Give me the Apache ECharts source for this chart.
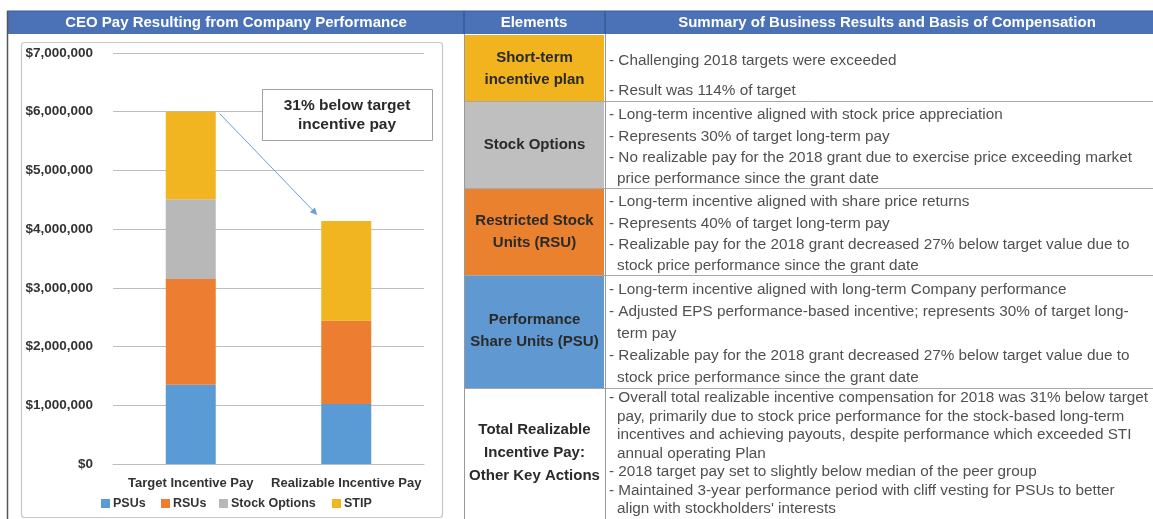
<!DOCTYPE html>
<html><head><meta charset="utf-8">
<script src="https://cdn.jsdelivr.net/npm/echarts@6/dist/echarts.min.js"></script>
<style>html,body{margin:0;padding:0;background:#fff}#c{width:1153px;height:519px}</style>
</head><body><div id="c"></div>
<script>
// ---------- data ----------
const chartTitle = 'CEO Pay Resulting from Company Performance';
const categories = ['Target Incentive Pay', 'Realizable Incentive Pay'];
const seriesNames = ['PSUs', 'RSUs', 'Stock Options', 'STIP'];
const psus = [1350000, 1020000];
const rsus = [1800000, 1420000];
const stockOptions = [1360000, 0];
const stip = [1490000, 1700000];
const yMin = 0, yMax = 7000000, yStep = 1000000;
const annotationLines = ['31% below target', 'incentive pay'];
const tableHeaders = ['Elements', 'Summary of Business Results and Basis of Compensation'];
const elementLabels = [
  ['Short-term', 'incentive plan'],
  ['Stock Options'],
  ['Restricted Stock', 'Units (RSU)'],
  ['Performance', 'Share Units (PSU)'],
  ['Total Realizable', 'Incentive Pay:', 'Other Key Actions']
];
const summaryLines = [
  ['- Challenging 2018 targets were exceeded', '- Result was 114% of target'],
  ['- Long-term incentive aligned with stock price appreciation',
   '- Represents 30% of target long-term pay',
   '- No realizable pay for the 2018 grant due to exercise price exceeding market',
   'price performance since the grant date'],
  ['- Long-term incentive aligned with share price returns',
   '- Represents 40% of target long-term pay',
   '- Realizable pay for the 2018 grant decreased 27% below target value due to',
   'stock price performance since the grant date'],
  ['- Long-term incentive aligned with long-term Company performance',
   '- Adjusted EPS performance-based incentive; represents 30% of target long-',
   'term pay',
   '- Realizable pay for the 2018 grant decreased 27% below target value due to',
   'stock price performance since the grant date'],
  ['- Overall total realizable incentive compensation for 2018 was 31% below target',
   'pay, primarily due to stock price performance for the stock-based long-term',
   'incentives and achieving payouts, despite performance which exceeded STI',
   'annual operating Plan',
   '- 2018 target pay set to slightly below median of the peer group',
   '- Maintained 3-year performance period with cliff vesting for PSUs to better',
   'align with stockholders\' interests']
];

// ---------- style / layout ----------
const FONT = "'Liberation Sans', Arial, Helvetica, sans-serif";
const barColors = ['#5b9bd5', '#ed7d31', '#b8b8b8', '#f0b521'];
const cellColors = ['#f1b41e', '#bfbfbf', '#e9812f', '#6099d1', '#ffffff'];
const headerBlue = '#4b72b6';
const rowBounds = [34, 101, 188, 275, 388, 519];
const elemLineY = [[58, 80], [145], [221, 243], [320, 342], [430, 453, 476]];
const sumLineY = [
  [61, 91],
  [115, 137, 158, 179],
  [202, 224, 245, 266],
  [290, 312, 334, 356, 378],
  [398, 416.5, 435, 453.5, 472, 490.5, 509]
];
const legendLeft = [101, 161, 219, 332];

const chart = echarts.init(document.getElementById('c'), null, {renderer: 'canvas'});

function staticGraphics() {
  const g = [];
  // header bar
  g.push({type: 'rect', shape: {x: 7, y: 11, width: 1146, height: 23}, style: {fill: headerBlue}, z: 0});
  g.push({type: 'line', shape: {x1: 7, y1: 11, x2: 1153, y2: 11}, style: {stroke: '#3b5a90', lineWidth: 1}});
  [464, 605].forEach(x => g.push({type: 'line', shape: {x1: x, y1: 11, x2: x, y2: 34}, style: {stroke: '#2f4f86', lineWidth: 1}}));
  g.push({type: 'text', x: 236, y: 23, style: {text: chartTitle, fill: '#fff', font: 'bold 15px ' + FONT, align: 'center', verticalAlign: 'middle'}});
  g.push({type: 'text', x: 534, y: 23, style: {text: tableHeaders[0], fill: '#fff', font: 'bold 15px ' + FONT, align: 'center', verticalAlign: 'middle'}});
  g.push({type: 'text', x: 887, y: 23, style: {text: tableHeaders[1], fill: '#fff', font: 'bold 15px ' + FONT, align: 'center', verticalAlign: 'middle'}});
  // left panel border
  g.push({type: 'line', shape: {x1: 7.5, y1: 11, x2: 7.5, y2: 519}, style: {stroke: '#555', lineWidth: 1.5}});
  // inner chart frame
  g.push({type: 'rect', shape: {x: 21.5, y: 42.5, width: 421, height: 475, r: 3}, style: {fill: 'none', stroke: '#c6c6c6', lineWidth: 1.2}, z: -1});
  // table cells
  for (let i = 0; i < 5; i++) {
    const y0 = rowBounds[i], y1 = rowBounds[i + 1];
    g.push({type: 'rect', shape: {x: 465, y: y0 + 1, width: 139, height: y1 - y0 - 1}, style: {fill: cellColors[i]}});
    if (i > 0) {
      g.push({type: 'line', shape: {x1: 464, y1: y0 + 0.5, x2: 1153, y2: y0 + 0.5}, style: {stroke: '#a8a8a8', lineWidth: 1}});
    }
    elementLabels[i].forEach((t, k) => g.push({type: 'text', x: 534.5, y: elemLineY[i][k],
      style: {text: t, fill: '#2a2a2a', font: 'bold 15px ' + FONT, align: 'center', verticalAlign: 'middle'}}));
    summaryLines[i].forEach((t, k) => {
      const cont = !t.startsWith('-');
      g.push({type: 'text', x: cont ? 617 : 609, y: sumLineY[i][k],
        style: {text: t, fill: '#505050', font: '15.3px ' + FONT, align: 'left', verticalAlign: 'middle'}});
    });
  }
  g.push({type: 'line', shape: {x1: 464.5, y1: 34, x2: 464.5, y2: 519}, style: {stroke: '#999', lineWidth: 1}});
  g.push({type: 'line', shape: {x1: 605.5, y1: 34, x2: 605.5, y2: 519}, style: {stroke: '#999', lineWidth: 1}});
  // annotation box
  g.push({type: 'rect', shape: {x: 262.5, y: 89.5, width: 170, height: 51}, style: {fill: '#fff', stroke: '#a0a0a0', lineWidth: 1}, z: 10});
  annotationLines.forEach((t, k) => g.push({type: 'text', x: 347, y: 106 + k * 19, z: 11,
    style: {text: t, fill: '#2a2a2a', font: 'bold 15.5px ' + FONT, align: 'center', verticalAlign: 'middle'}}));
  return g;
}

function legendFor(i) {
  return {
    data: [seriesNames[i]], left: legendLeft[i], top: 497, itemWidth: 9, itemHeight: 9, icon: 'rect',
    padding: 0, textStyle: {fontFamily: FONT, fontWeight: 'bold', fontSize: 12.5, color: '#333', padding: [0, 0, 0, -2]}
  };
}

const seriesData = [psus, rsus, stockOptions, stip];
const option = {
  animation: false,
  backgroundColor: '#fff',
  textStyle: {fontFamily: FONT},
  grid: {left: 113, right: 729, top: 53, bottom: 55, containLabel: false},
  legend: [0, 1, 2, 3].map(legendFor),
  xAxis: {
    type: 'category', data: categories,
    axisLine: {show: true, lineStyle: {color: '#bdbdbd', width: 1}},
    axisTick: {show: false},
    axisLabel: {interval: 0, hideOverlap: false, fontFamily: FONT, fontWeight: 'bold', fontSize: 13, color: '#333', margin: 13}
  },
  yAxis: {
    type: 'value', min: yMin, max: yMax, interval: yStep,
    axisLine: {show: false}, axisTick: {show: false},
    splitLine: {lineStyle: {color: '#bdbdbd', width: 1}},
    axisLabel: {fontFamily: FONT, fontWeight: 'bold', fontSize: 13.5, color: '#333', margin: 20,
      formatter: v => '$' + v.toLocaleString('en-US')}
  },
  series: seriesNames.map((n, i) => ({
    name: n, type: 'bar', stack: 'pay', barWidth: 50,
    data: seriesData[i],
    itemStyle: {color: barColors[i]}
  })),
  graphic: staticGraphics()
};
chart.setOption(option);

// arrow from top of target bar to top of realizable bar (computed through the axes)
const targetTotal = psus[0] + rsus[0] + stockOptions[0] + stip[0];
const realTotal = psus[1] + rsus[1] + stockOptions[1] + stip[1];
const p1 = chart.convertToPixel({gridIndex: 0}, [0, targetTotal]);
const p2 = chart.convertToPixel({gridIndex: 0}, [1, realTotal]);
const sx = p1[0] + 29, sy = p1[1] + 2;
const ex = p2[0] - 29, ey = p2[1] - 6;
const ang = Math.atan2(ey - sy, ex - sx);
const hl = 7, hw = 3.5;
const bx = ex - hl * Math.cos(ang), by = ey - hl * Math.sin(ang);
const gAll = staticGraphics();
gAll.push({type: 'line', shape: {x1: sx, y1: sy, x2: bx, y2: by}, style: {stroke: '#6a9fd8', lineWidth: 1}, z: 12});
gAll.push({type: 'polygon', shape: {points: [[ex, ey],
  [bx + hw * Math.sin(ang), by - hw * Math.cos(ang)],
  [bx - hw * Math.sin(ang), by + hw * Math.cos(ang)]]}, style: {fill: '#6a9fd8'}, z: 12});
chart.setOption({graphic: gAll}, {replaceMerge: ['graphic']});
</script>
</body></html>
